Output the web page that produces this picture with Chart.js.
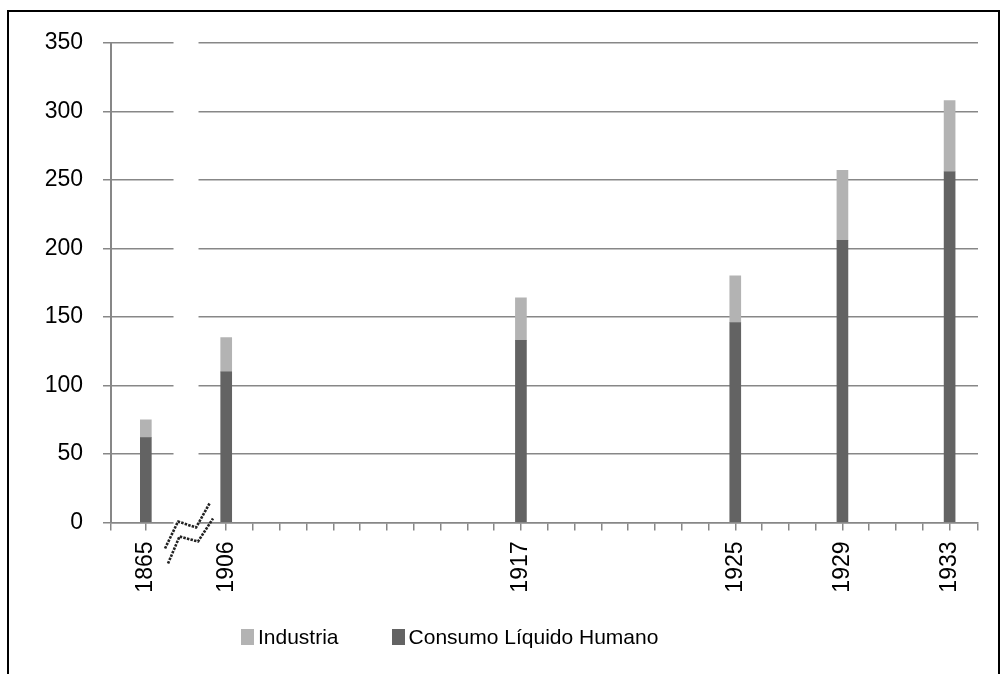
<!DOCTYPE html>
<html>
<head>
<meta charset="utf-8">
<script src="https://cdn.jsdelivr.net/npm/chart.js@4.4.0/dist/chart.umd.min.js"></script>
<style>
  html, body { margin:0; padding:0; background:#fff; overflow:hidden; }
  #wrap { position:relative; width:1002px; height:674px; }
  #frame { position:absolute; left:7px; top:10px; width:989px; height:720px; border:2px solid #000; }
  #chart { position:absolute; left:0; top:0; }
  #legend { position:absolute; left:241px; top:625px; display:flex; align-items:center;
            font:21px 'Liberation Sans', Arial, sans-serif; color:#000; line-height:24px; }
  #legend .item { display:flex; align-items:center; }
  #legend .item + .item { margin-left:53px; }
  #legend .box { display:inline-block; width:13px; height:16px; margin-right:4px; }
</style>
</head>
<body>
<div id="wrap">
  <div id="frame"></div>
  <canvas id="chart" width="1002" height="674"></canvas>
  <div id="legend"></div>
</div>
<script>
/* ---- data ---- */
const years     = [1865, 1906, 1917, 1925, 1929, 1933];
const consumo   = [62, 110, 133, 146, 206, 256];
const industria = [13, 25, 31, 34, 51, 52];
const yTicks    = [0, 50, 100, 150, 200, 250, 300, 350];

// 1865 sits just before the axis break, in the slot of 1903
const BREAK_YEAR = 1865;
const BREAK_SLOT = 1903;
const BREAK_MID  = 1904.5;
const X_MIN = 1901.7, X_MAX = 1934.06;

const DARK  = '#636363';
const LIGHT = '#b3b3b3';
const GRID  = '#878787';
const FONT  = "'Liberation Sans', Arial, sans-serif";

const slotOf = y => y === BREAK_YEAR ? BREAK_SLOT : y;

/* white band + zigzag marking the broken axis */
const axisBreak = {
  id: 'axisBreak',
  afterDraw(chart){
    const { ctx, chartArea, scales:{ x } } = chart;
    const cx = x.getPixelForValue(BREAK_MID);
    const by = chartArea.bottom;
    ctx.save();
    ctx.fillStyle = '#fff';
    ctx.fillRect(cx - 12.5, chartArea.top - 3, 25, by - chartArea.top + 5);
    ctx.strokeStyle = '#222';
    ctx.lineWidth = 2.6;
    ctx.lineJoin = 'round';
    ctx.setLineDash([2.5, 1.2]);
    const zig = (pts) => {
      ctx.beginPath();
      pts.forEach(([dx, dy], i) => i ? ctx.lineTo(cx + dx, by + dy) : ctx.moveTo(cx + dx, by + dy));
      ctx.stroke();
    };
    zig([[-21, 26], [-8, -1], [10, 5], [23.5, -19]]);
    zig([[-18, 41], [-6.5, 14], [12, 19], [27, -4]]);
    ctx.restore();
  }
};

const chart = new Chart(document.getElementById('chart'), {
  type: 'bar',
  data: {
    datasets: [
      { label: 'Consumo Líquido Humano', data: years.map((y, i) => ({ x: slotOf(y), y: consumo[i] })),
        backgroundColor: DARK, barThickness: 11, borderWidth: 0 },
      { label: 'Industria', data: years.map((y, i) => ({ x: slotOf(y), y: industria[i] })),
        backgroundColor: LIGHT, barThickness: 11, borderWidth: 0 },
    ],
  },
  options: {
    responsive: false,
    animation: false,
    layout: { padding: { left: 0, top: 43, right: 24, bottom: 0 } },
    plugins: { legend: { display: false }, tooltip: { enabled: false } },
    scales: {
      x: {
        type: 'linear', stacked: true, offset: false,
        min: X_MIN, max: X_MAX,
        afterBuildTicks: s => {
          const t = [{ value: X_MIN }, { value: BREAK_SLOT }];
          for (let v = years[1]; v <= years[years.length - 1]; v++) t.push({ value: v });
          t.push({ value: X_MAX });
          s.ticks = t;
        },
        afterFit: s => { s.height = 151.5; s.paddingLeft = 0; s.paddingRight = 0; },
        grid: { display: true, drawOnChartArea: false, drawTicks: true, tickLength: 8, color: GRID, lineWidth: 1.5, offset: false },
        border: { display: true, color: GRID, width: 1.5 },
        ticks: {
          autoSkip: false, minRotation: 90, maxRotation: 90, padding: 11,
          color: '#000', font: { family: FONT, size: 23 },
          callback: v => v === BREAK_SLOT ? String(BREAK_YEAR) : (years.includes(v) ? String(v) : ''),
        },
      },
      y: {
        stacked: true, min: 0, max: 350,
        afterBuildTicks: s => { s.ticks = yTicks.map(v => ({ value: v })); },
        afterFit: s => { s.width = 111; s.paddingTop = 0; s.paddingBottom = 0; },
        grid: { color: GRID, lineWidth: 1.5, tickLength: 8 },
        border: { display: true, color: GRID, width: 2 },
        ticks: { padding: 20, color: '#000', font: { family: FONT, size: 23 } },
      },
    },
  },
  plugins: [axisBreak],
});

/* legend: Industria first, as in the original */
const legend = document.getElementById('legend');
chart.data.datasets.slice().reverse().forEach(ds => {
  const item = document.createElement('span');
  item.className = 'item';
  const box = document.createElement('span');
  box.className = 'box';
  box.style.background = ds.backgroundColor;
  item.appendChild(box);
  item.appendChild(document.createTextNode(ds.label));
  legend.appendChild(item);
});
</script>
</body>
</html>
